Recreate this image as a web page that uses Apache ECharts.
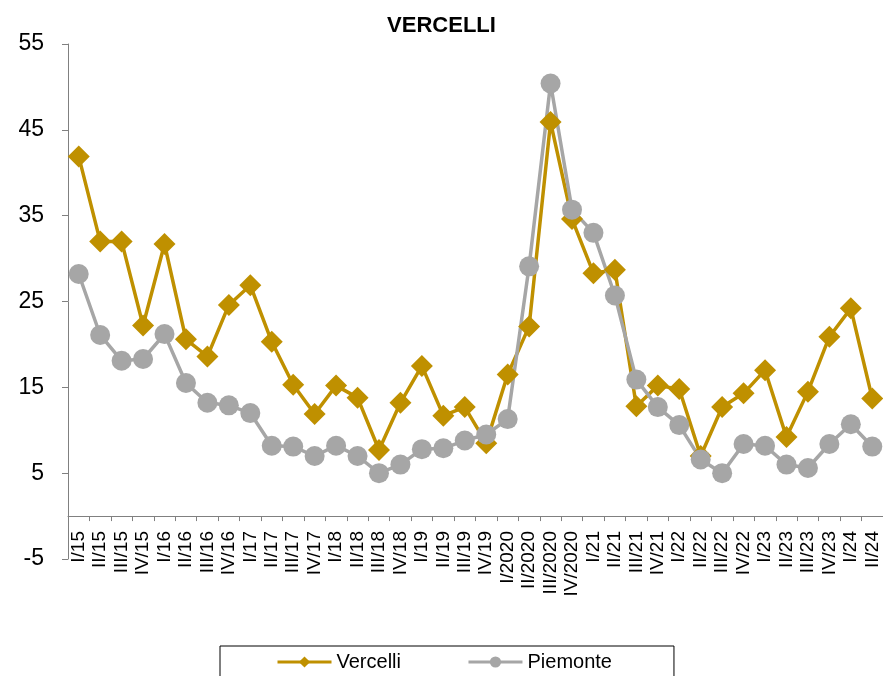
<!DOCTYPE html>
<html lang="it">
<head>
	<meta charset="UTF-8">
	<title>VERCELLI</title>
	<script src="https://cdn.jsdelivr.net/npm/echarts@6/dist/echarts.min.js"></script>
	<style>
		html, body { margin: 0; padding: 0; background: #fff; }
		#chart { width: 883px; height: 676px; }
	</style>
</head>
<body>
	<div id="chart"></div>
	<script>
		// trimestri
		var categories = ['I/15', 'II/15', 'III/15', 'IV/15', 'I/16', 'II/16', 'III/16', 'IV/16',
			'I/17', 'II/17', 'III/17', 'IV/17', 'I/18', 'II/18', 'III/18', 'IV/18',
			'I/19', 'II/19', 'III/19', 'IV/19', 'I/2020', 'II/2020', 'III/2020', 'IV/2020',
			'I/21', 'II/21', 'III/21', 'IV/21', 'I/22', 'II/22', 'III/22', 'IV/22',
			'I/23', 'II/23', 'III/23', 'IV/23', 'I/24', 'II/24'];

		var vercelli = [41.9, 32.0, 32.0, 22.2, 31.7, 20.6, 18.6, 24.6,
			26.9, 20.3, 15.3, 11.9, 15.2, 13.8, 7.7, 13.2,
			17.5, 11.7, 12.7, 8.5, 16.5, 22.1, 45.9, 34.6,
			28.3, 28.7, 12.8, 15.2, 14.8, 7.0, 12.7, 14.3,
			17.0, 9.2, 14.5, 20.9, 24.2, 13.7];

		var piemonte = [28.2, 21.1, 18.1, 18.3, 21.2, 15.5, 13.2, 12.9,
			12.0, 8.2, 8.1, 7.0, 8.2, 7.0, 5.0, 6.0,
			7.8, 7.9, 8.8, 9.5, 11.3, 29.1, 50.4, 35.7,
			33.0, 25.7, 15.9, 12.7, 10.6, 6.6, 5.0, 8.4,
			8.2, 6.0, 5.6, 8.4, 10.7, 8.1];

		var yTicks = { min: -5, max: 55, step: 10 };

		var font = 'Liberation Sans, Arial, sans-serif';
		var chart = echarts.init(document.getElementById('chart'));
		chart.setOption({
			animation: false,
			backgroundColor: '#ffffff',
			title: {
				text: 'VERCELLI',
				left: 'center',
				top: 10,
				textStyle: { fontFamily: font, fontSize: 22, fontWeight: 'bold', color: '#000' }
			},
			legend: {
				left: 220,
				top: 646,
				padding: [6, 62, 30, 56],
				borderColor: '#000',
				borderWidth: 1,
				itemWidth: 54,
				itemHeight: 14,
				itemGap: 66,
				lineStyle: { width: 3 },
				textStyle: { fontFamily: font, fontSize: 20, color: '#000' },
				data: ['Vercelli', 'Piemonte']
			},
			grid: {
				left: 68,
				right: -3,
				top: 44,
				bottom: 117,
				containLabel: false
			},
			xAxis: {
				type: 'category',
				data: categories,
				boundaryGap: true,
				axisLine: { onZero: true, lineStyle: { color: '#808080', width: 1 } },
				axisTick: { show: true, length: 5, lineStyle: { color: '#808080' } },
				axisLabel: {
					interval: 0,
					rotate: 90,
					// le etichette restano in fondo alla griglia: le riporto sotto lo zero
					margin: -28,
					fontFamily: font,
					fontSize: 19,
					color: '#000'
				},
				splitLine: { show: false }
			},
			yAxis: {
				type: 'value',
				min: yTicks.min,
				max: yTicks.max,
				interval: yTicks.step,
				axisLine: { show: true, lineStyle: { color: '#808080', width: 1 } },
				axisTick: { show: true, length: 6, lineStyle: { color: '#808080' } },
				axisLabel: { fontFamily: font, fontSize: 23, color: '#000', margin: 24 },
				splitLine: { show: false }
			},
			series: [{
				name: 'Vercelli',
				type: 'line',
				data: vercelli,
				symbol: 'diamond',
				symbolSize: 22,
				lineStyle: { color: '#BF9000', width: 3.5 },
				itemStyle: { color: '#BF9000' }
			}, {
				name: 'Piemonte',
				type: 'line',
				data: piemonte,
				symbol: 'circle',
				symbolSize: 20,
				lineStyle: { color: '#A6A6A6', width: 3.5 },
				itemStyle: { color: '#A6A6A6' }
			}]
		});
	</script>
</body>
</html>
